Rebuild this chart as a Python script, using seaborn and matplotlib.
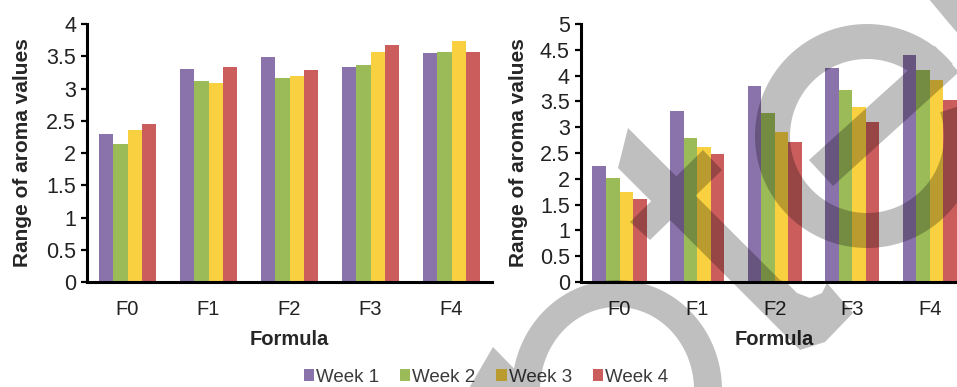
import numpy as np
import pandas as pd
import matplotlib
matplotlib.use("Agg")
import matplotlib.pyplot as plt
from matplotlib.path import Path
from matplotlib.patches import PathPatch
from matplotlib.transforms import Affine2D
import seaborn as sns

# ---------------------------------------------------------------- data
formulas = ["F0", "F1", "F2", "F3", "F4"]
weeks = ["Week 1", "Week 2", "Week 3", "Week 4"]
week_colors = ["#8A72AB", "#9BBB59", "#F9D03F", "#CB5D5D"]

# panel (a): aroma scores per formula, one list per week
a_week1 = [2.30, 3.31, 3.49, 3.33, 3.55]
a_week2 = [2.14, 3.11, 3.17, 3.37, 3.57]
a_week3 = [2.36, 3.09, 3.19, 3.57, 3.73]
a_week4 = [2.45, 3.33, 3.29, 3.67, 3.57]

# panel (b): aroma scores per formula, one list per week
b_week1 = [2.24, 3.31, 3.80, 4.15, 4.40]
b_week2 = [2.02, 2.80, 3.28, 3.73, 4.11]
b_week3 = [1.74, 2.62, 2.91, 3.40, 3.91]
b_week4 = [1.60, 2.49, 2.71, 3.11, 3.53]

a_yticks = [0, 0.5, 1, 1.5, 2, 2.5, 3, 3.5, 4]
b_yticks = [0, 0.5, 1, 1.5, 2, 2.5, 3, 3.5, 4, 4.5, 5]


def long_table(series):
    rows = []
    for week, vals in zip(weeks, series):
        for f, v in zip(formulas, vals):
            rows.append({"Formula": f, "Week": week, "Score": v})
    return pd.DataFrame(rows)


df_a = long_table([a_week1, a_week2, a_week3, a_week4])
df_b = long_table([b_week1, b_week2, b_week3, b_week4])

# ---------------------------------------------------------------- style
sns.set_style("ticks")
plt.rcParams["font.family"] = ["Liberation Sans", "DejaVu Sans"]

W, H = 957, 387
fig = plt.figure(figsize=(W / 100, H / 100), dpi=100)
fig.patch.set_facecolor("white")

ax_a = fig.add_axes([87 / W, 105 / H, 405 / W, 258 / H])
ax_b = fig.add_axes([580.7 / W, 105 / H, 388 / W, 258 / H])

tick_color = "#222222"
for ax, df, yt, show_leg, ypad in [(ax_a, df_a, a_yticks, True, 10),
                                    (ax_b, df_b, b_yticks, False, 8.5)]:
    sns.barplot(data=df, x="Formula", y="Score", hue="Week", order=formulas,
                hue_order=weeks, palette=week_colors, saturation=1, width=0.7,
                errorbar=None, linewidth=0, ax=ax, legend=show_leg)
    ax.set_ylim(yt[0], yt[-1])
    ax.set_yticks(yt)
    ax.set_yticklabels([f"{v:g}" for v in yt])
    ax.set_xlim(-0.5, len(formulas) - 0.5)
    sns.despine(ax=ax)
    for side in ("left", "bottom"):
        ax.spines[side].set_linewidth(2.2)
        ax.spines[side].set_color("black")
    ax.tick_params(axis="y", length=4.3, width=1.6, pad=3.5, labelsize=15.5,
                   colors="black", labelcolor=tick_color)
    ax.tick_params(axis="x", length=0, pad=13, labelsize=14.5, labelcolor=tick_color)
    ax.set_xlabel("Formula", fontsize=14.5, fontweight="bold", labelpad=8)
    ax.set_ylabel("Range of aroma values", fontsize=15, fontweight="bold", labelpad=ypad)
    ax.set_facecolor("none")

handles, labels = ax_a.get_legend_handles_labels()
ax_a.get_legend().remove()
fig.legend(handles, labels, loc="center", bbox_to_anchor=(486 / W, 1 - 377 / H),
           ncol=4, frameon=False, fontsize=13.5, handlelength=0.55, handleheight=0.55,
           handletextpad=0.12, columnspacing=1.1, labelcolor="#3a3a3a")

# ---------------------------------------------------------------- watermark stamp
# shapes given in pixel coordinates with y measured from the top edge


def up(pts):
    return [(x, H - y) for x, y in pts]


def ccw(pts):
    p = np.asarray(pts, float)
    area = 0.5 * np.sum(p[:, 0] * np.roll(p[:, 1], -1) - np.roll(p[:, 0], -1) * p[:, 1])
    return p if area > 0 else p[::-1]


def closed(pts):
    p = np.vstack([pts, pts[:1]])
    codes = [Path.MOVETO] + [Path.LINETO] * (len(pts) - 1) + [Path.CLOSEPOLY]
    return Path(p, codes)


def arc_band(cx, cy, r_out, r_in, t1, t2, n=160):
    t = np.radians(np.linspace(t1, t2, n))
    cyu = H - cy
    outer = np.column_stack([cx + r_out * np.cos(t), cyu + r_out * np.sin(t)])
    inner = np.column_stack([cx + r_in * np.cos(t[::-1]), cyu + r_in * np.sin(t[::-1])])
    return np.vstack([outer, inner])


def ellipse_ring(cx, cy, ao, bo, ai, bi, n=200):
    t = np.linspace(0, 2 * np.pi, n, endpoint=False)
    cyu = H - cy
    outer = np.column_stack([cx + ao * np.cos(t), cyu + bo * np.sin(t)])
    inner = np.column_stack([cx + ai * np.cos(t), cyu + bi * np.sin(t)])[::-1]
    return [closed(outer), closed(inner)]


stamp_paths = []
polys = [
    [(628, 128), (780, 280), (787, 283), (797, 293), (810, 298), (822, 293),
     (827, 283), (853, 313), (825, 342), (800, 350), (795, 345), (618, 168)],
    [(630, 222), (703, 150), (722, 170), (650, 240)],
    [(809, 160), (833, 186), (959, 72), (935, 46)],
    [(928, -2), (960, -2), (960, 36), (948, 22), (938, 10)],
    [(468, 390), (493, 347), (535, 390)],
]
for p in polys:
    stamp_paths.append(closed(ccw(up(p))))
stamp_paths.append(closed(ccw(arc_band(867, 136, 112, 77, 40, 378))))
stamp_paths.extend(ellipse_ring(617, 390, 105, 110, 77, 83))

stamp = Path.make_compound_path(*stamp_paths)
px_trans = Affine2D().scale(1 / 100) + fig.dpi_scale_trans
fig.add_artist(PathPatch(stamp, facecolor=(0, 0, 0, 0.25), edgecolor="none",
                         transform=px_trans, zorder=20))

fig.savefig("out.png", dpi=100)
